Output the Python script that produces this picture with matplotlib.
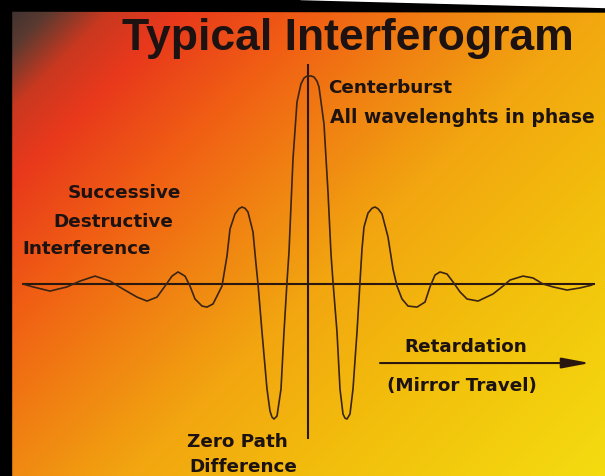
import numpy as np
import matplotlib
matplotlib.use("Agg")
import matplotlib.pyplot as plt
from matplotlib.patches import Polygon, Rectangle

# ---------------- data ----------------
retardation = [-28.5, -27.5, -25.8, -24.1, -22.8, -21.3, -19.8, -18.5, -17.1, -16.1,
               -15.1, -14.3, -13.6, -13.0, -12.3, -11.8, -11.3, -10.6, -10.1, -9.5,
               -9.1, -8.6, -8.1, -7.8, -7.3, -6.9, -6.6, -6.3, -6.0, -5.5, -5.2, -5.0,
               -4.6, -4.1, -3.8, -3.6, -3.4, -3.1, -2.7, -2.4, -2.1, -1.9, -1.5,
               -1.1, -0.7, -0.4, -0.1, 0.3, 0.6, 0.9, 1.1, 1.6, 2.0, 2.3, 2.5, 2.9,
               3.2, 3.5, 3.7, 3.9, 4.2, 4.5, 4.9, 5.2, 5.4, 5.6, 6.0,
               6.4, 6.7, 7.0, 7.4, 8.0, 8.5, 8.9, 9.4, 10.0, 10.9, 11.7, 12.2,
               12.7, 13.2, 13.9, 14.5, 15.2, 15.9, 17.0, 18.5, 19.5, 20.2,
               21.5, 22.5, 23.5, 24.5, 25.9, 27.2, 28.4]
intensity = [0.000, -0.014, -0.034, -0.014, 0.014, 0.038, 0.014, -0.024, -0.063, -0.082,
             -0.063, -0.010, 0.038, 0.058, 0.038, -0.010, -0.072, -0.106, -0.111, -0.096,
             -0.058, -0.010, 0.135, 0.264, 0.337, 0.362, 0.370, 0.364, 0.346, 0.250, 0.096, 0.000,
             -0.231, -0.505, -0.611, -0.640, -0.649, -0.635, -0.505, -0.231, 0.010, 0.154, 0.601,
             0.875, 0.962, 0.990, 1.000, 1.000, 0.995, 0.975, 0.947, 0.769, 0.442, 0.144, 0.010, -0.231,
             -0.505, -0.625, -0.645, -0.649, -0.625, -0.505, -0.231, 0.010, 0.168, 0.274, 0.341,
             0.364, 0.370, 0.362, 0.337, 0.226, 0.072, -0.010, -0.072, -0.106, -0.111, -0.087, -0.014,
             0.043, 0.058, 0.048, 0.010, -0.038, -0.072, -0.082, -0.048, -0.010, 0.019,
             0.038, 0.029, 0.000, -0.014, -0.029, -0.019, -0.005]

baseline_span = (-28.6, 28.7)        # horizontal zero line
centre_line_span = (-0.745, 1.058)   # vertical zero-path-difference line
arrow_span = (7.2, 28.2)
arrow_level = -0.380

title = "Typical Interferogram"
labels = {
    "centre1": "Centerburst",
    "centre2": "All wavelenghts in phase",
    "succ1": "Successive",
    "succ2": "Destructive",
    "succ3": "Interference",
    "ret1": "Retardation",
    "ret2": "(Mirror Travel)",
    "zpd1": "Zero Path",
    "zpd2": "Difference",
}

# ---------------- figure ----------------
W, H = 605, 477
fig = plt.figure(figsize=(W / 100, H / 100), dpi=100)
fig.patch.set_facecolor("white")
ax = fig.add_axes([0, 0, 1, 1])
ax.set_xlim(-30.8, 29.7)
ax.set_ylim(-0.923, 1.370)
ax.set_axis_off()

# diagonal background gradient
stops_s = [0, 60, 120, 190, 320, 460, 600, 800, 1082]
stops_c = ["#2e2e30", "#5a3a30", "#c83820", "#e8381c", "#f05c14",
           "#f08212", "#f2a510", "#f2bf0c", "#f4dc10"]
rgb = np.array([matplotlib.colors.to_rgb(c) for c in stops_c])
yy, xx = np.mgrid[0:H, 0:W]
s = (xx + yy).astype(float)
img = np.dstack([np.interp(s, stops_s, rgb[:, k]) for k in range(3)])
ax.imshow(img, extent=(0, 1, 0, 1), transform=ax.transAxes, aspect="auto",
          origin="upper", zorder=0, interpolation="bilinear")

line_col = "#3a2414"
axis_col = "#2a1810"
ax.plot(baseline_span, [0, 0], color=axis_col, lw=1.5, zorder=2,
        solid_capstyle="butt")
ax.plot([0, 0], centre_line_span, color=axis_col, lw=1.5, zorder=2,
        solid_capstyle="butt")
ax.plot(retardation, intensity, color=line_col, lw=1.2, zorder=3,
        solid_joinstyle="round", solid_capstyle="round")

ax.annotate("", xy=(arrow_span[1], arrow_level), xytext=(arrow_span[0], arrow_level),
            arrowprops=dict(arrowstyle="-|>,head_length=0.85,head_width=0.16",
                            lw=1.5, color=axis_col, mutation_scale=20,
                            shrinkA=0, shrinkB=0), zorder=3)

# border
fig.add_artist(Rectangle((0, 0), 11 / W, 1, transform=fig.transFigure,
                         color="black", zorder=10))
fig.add_artist(Polygon([(0, 1), (1, 1), (1, 1 - 13 / H), (0, 1 - 12 / H)],
                       closed=True, transform=fig.transFigure, color="black", zorder=10))
fig.add_artist(Polygon([(300 / W, 1), (1, 1), (1, 1 - 8 / H)],
                       closed=True, transform=fig.transFigure, color="white", zorder=11))

txt_col = "#1c1212"


def ptext(x, y, s, size=13.2, family="DejaVu Sans"):
    fig.text(x / W, 1 - y / H, s, ha="left", va="baseline", fontsize=size,
             fontweight="bold", family=family, color=txt_col, zorder=12)


ptext(122, 50, title, size=32, family="Liberation Sans")
ptext(328, 93, labels["centre1"])
ptext(330, 123, labels["centre2"], size=13.5)
ptext(68, 198, labels["succ1"])
ptext(53, 227, labels["succ2"])
ptext(22, 254, labels["succ3"])
ptext(404, 352, labels["ret1"])
ptext(387, 391, labels["ret2"])
ptext(187, 447, labels["zpd1"])
ptext(189, 472, labels["zpd2"])

fig.savefig("out.png", dpi=100)
